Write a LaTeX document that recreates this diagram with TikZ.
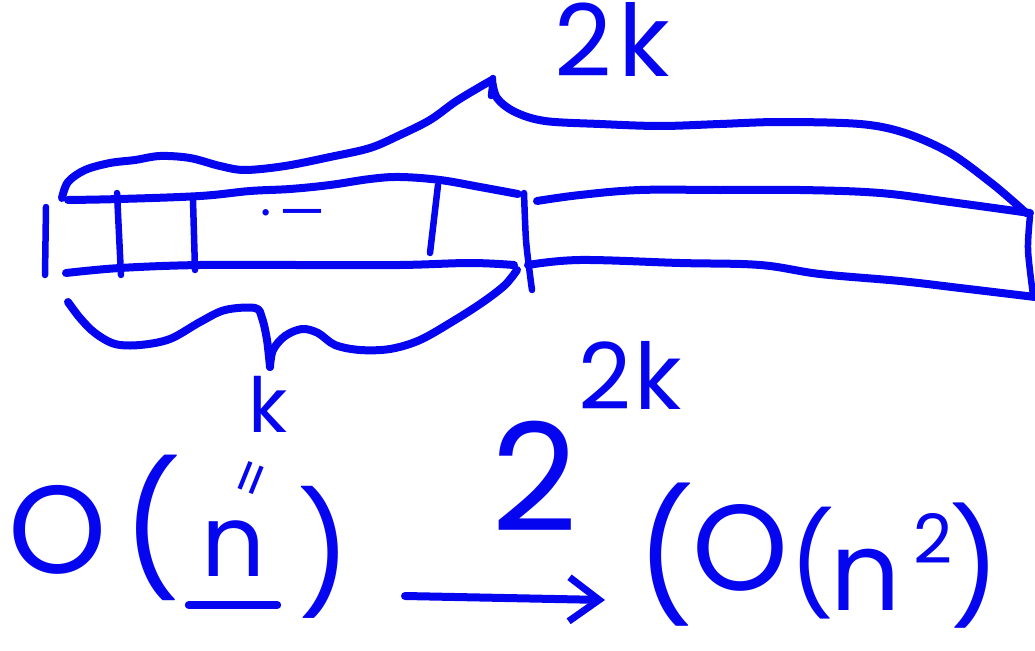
\documentclass[tikz,border=0pt]{standalone}
\usepackage{fontspec}
\setmainfont{Poppins}
\usetikzlibrary{arrows.meta}
\definecolor{ink}{RGB}{5,5,240}
\begin{document}
\begin{tikzpicture}[x=1pt,y=-1pt,
  stroke/.style={draw=ink,line width=8pt,line cap=round,line join=round},
  thin/.style={draw=ink,line width=6.5pt,line cap=round,line join=round},
  lbl/.style={text=ink,inner sep=0pt,anchor=center},
  fs/.style={font=\fontsize{#1}{#1}\selectfont}]
\useasboundingbox (0,0) rectangle (1035,650);
% ---- strip, left part
\draw[stroke] plot[smooth,tension=0.6] coordinates {(68,200) (120,199) (200,196) (250,191) (290,189) (330,185) (370,179) (400,177) (440,180) (480,187) (518,194)};
\draw[stroke] plot[smooth,tension=0.6] coordinates {(66,273) (120,268) (200,265) (300,265) (400,265) (470,263) (514,265)};
\draw[thin] (46,207) -- (45,275);
\draw[thin] (117,193) -- (121,275);
\draw[thin] (193,200) -- (195,270);
\draw[thin] (438,185) -- (430,253);
\draw[thin] plot[smooth] coordinates {(524,193) (526,240) (530,275) (532,290)};
% ---- strip, right part
\draw[stroke] plot[smooth,tension=0.6] coordinates {(537,201) (580,195) (640,190) (720,190) (800,190) (880,193) (950,202) (1030,213)};
\draw[stroke] plot[smooth,tension=0.6] coordinates {(528,265) (580,260) (680,263) (760,265) (820,274) (900,281) (960,288) (1035,297)};
\draw[thin] plot[smooth] coordinates {(1030,216) (1028,250) (1033,295)};
% ---- ellipsis text inside
\node[lbl,fs=52] (dots) at (293,220) {·\,—};
% ---- top brace
\draw[stroke] plot[smooth,tension=0.55] coordinates {(62,198) (68,182) (85,170) (110,163) (135,160) (160,156) (190,158) (220,166) (245,170) (285,166) (330,157) (370,148) (400,135) (430,120) (455,102) (478,88) (492,80)};
\draw[stroke] plot[smooth,tension=0.55] coordinates {(492,80) (497,98) (515,112) (545,121) (600,124) (660,126) (720,124) (780,122) (860,124) (905,133) (950,153) (990,182) (1015,203) (1026,213)};
\draw[thin] (491,96) -- (493,78);
\node[lbl,fs=100] (twok) at (612,40) {2\kern6pt k};
% ---- bottom brace
\draw[stroke] plot[smooth,tension=0.55] coordinates {(68,302) (80,318) (95,333) (115,344) (140,345) (170,339) (200,322) (225,310) (255,308) (262,318) (267,340) (270,367)};
\draw[stroke] plot[smooth,tension=0.55] coordinates {(270,367) (273,350) (285,336) (302,329) (318,333) (335,345) (360,350) (390,349) (420,340) (455,320) (483,302) (505,285) (517,270)};
\node[lbl,fs=76] (k) at (268,404) {k};
\node[lbl,fs=56,rotate=68] (eq) at (257,480) {=};
% ---- O(n)
\node[lbl,fs=125] (O1) at (58,530) {O};
\node[lbl,fs=130] (lp1) at (152,528) {(};
\node[lbl,fs=100] (n1) at (233,549) {n};
\draw[stroke] ([xshift=-12pt,yshift=-28pt]n1.south west) coordinate (ul1) -- ([xshift=12pt,yshift=-28pt]n1.south east) coordinate (ul2);
\node[lbl,fs=118] (rp1) at (324,552) {)};
% ---- arrow
\coordinate (arrS) at (405,596);
\coordinate (arrE) at (605,600);
\draw[stroke,-{Straight Barb[length=30pt,width=44pt,line width=7pt]}] (arrS) -- (arrE);
% ---- 2^{2k}
\node[lbl,fs=150] (two) at (535,476) {2};
\node[lbl,fs=92] (twok2) at (630,375) {2\kern3pt k};
% ---- (O(n^2))
\node[lbl,fs=128] (lp2) at (666,555) {(};
\node[lbl,fs=122] (O2) at (740,548) {O};
\node[lbl,fs=100] (lp3) at (812,563) {(};
\node[lbl,fs=110] (n2) at (866,580) {n};
\node[lbl,fs=68] (sq) at (933,538) {2};
\node[lbl,fs=112] (rp2) at (975,566) {)};
\end{tikzpicture}
\end{document}
